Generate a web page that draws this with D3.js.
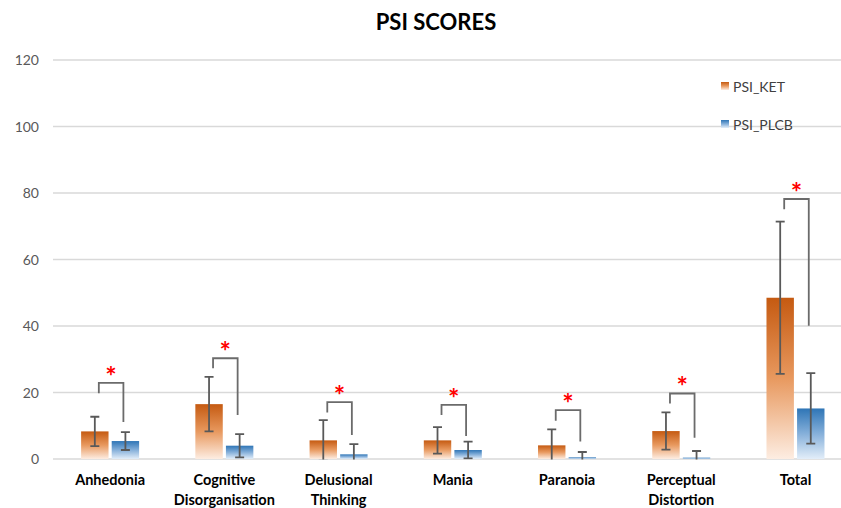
<!DOCTYPE html>
<html>
<head>
<meta charset="utf-8">
<script src="https://cdn.jsdelivr.net/npm/d3@7"></script>
<style>
  html, body { margin: 0; padding: 0; background: #fff; }
  svg { display: block; }
</style>
</head>
<body>
<svg id="chart" width="841" height="508"></svg>
<script>
// ---- data ----
const categories = [["Anhedonia"], ["Cognitive", "Disorganisation"], ["Delusional", "Thinking"], ["Mania"], ["Paranoia"], ["Perceptual", "Distortion"], ["Total"]];
const categoryKeys = ["Anhedonia", "Cognitive Disorganisation", "Delusional Thinking", "Mania", "Paranoia", "Perceptual Distortion", "Total"];
const seriesNames = ["PSI_KET", "PSI_PLCB"];
const ketValues = [8.3, 16.5, 5.6, 5.6, 4.1, 8.4, 48.5];
const ketErrors = [4.4, 8.2, 6.1, 4.0, 4.8, 5.6, 22.9];
const plcbValues = [5.4, 4.0, 1.4, 2.7, 0.5, 0.4, 15.2];
const plcbErrors = [2.7, 3.5, 3.1, 2.5, 1.6, 2.0, 10.6];
// significance brackets: top of bracket, end of left leg, end of right leg
const bracketTop = [22.9, 30.3, 17.1, 16.3, 14.7, 19.7, 78.2];
const bracketLeftEnd = [19.8, 27.3, 14.0, 13.2, 11.5, 16.7, 75.1];
const bracketRightEnd = [11.1, 13.2, 7.2, 6.9, 5.3, 6.4, 40.1];
const yTicks = [0, 20, 40, 60, 80, 100, 120];

// ---- layout ----
const svg = d3.select("#chart");
const FONT = "Lato, 'Open Sans', sans-serif";
const plotLeft = 53, plotRight = 852.6, plotTop = 60, plotBottom = 459;

const x = d3.scaleBand().domain(categoryKeys).range([plotLeft, plotRight]).paddingInner(0).paddingOuter(0);
const y = d3.scaleLinear().domain([0, 120]).range([plotBottom, plotTop]);
const sub = d3.scaleBand().domain(seriesNames).range([-29, 29]).paddingInner(6 / 58);

const defs = svg.append("defs");
function grad(id, stops) {
  const g = defs.append("linearGradient").attr("id", id).attr("x1", 0).attr("y1", 0).attr("x2", 0).attr("y2", 1);
  stops.forEach(s => g.append("stop").attr("offset", s[0]).attr("stop-color", s[1]));
}
grad("gKet", [[0, "#C55A11"], [0.5, "#E8995F"], [1, "#FDEDE2"]]);
grad("gPlcb", [[0, "#2E75B6"], [0.5, "#86B0DA"], [1, "#E3EEF9"]]);
defs.append("clipPath").attr("id", "plotClip").append("rect")
  .attr("x", 0).attr("y", 0).attr("width", 841).attr("height", plotBottom + 0.5);

// gridlines
svg.append("g").selectAll("line").data(yTicks).join("line")
  .attr("x1", plotLeft).attr("x2", 841)
  .attr("y1", d => y(d)).attr("y2", d => y(d))
  .attr("stroke", "#d9d9d9").attr("stroke-width", 1.3);

// y tick labels
svg.append("g").selectAll("text").data(yTicks).join("text")
  .attr("x", 39).attr("y", d => y(d) + 5)
  .attr("text-anchor", "end")
  .attr("font-family", FONT).attr("font-size", 14).attr("fill", "#595959")
  .text(d => d);

// title
svg.append("text").attr("x", 436).attr("y", 30).attr("text-anchor", "middle")
  .attr("font-family", FONT).attr("font-size", 22).attr("font-weight", "bold").attr("fill", "#000")
  .text("PSI SCORES");

// bars
const series = [
  { name: seriesNames[0], values: ketValues, errors: ketErrors, fill: "url(#gKet)" },
  { name: seriesNames[1], values: plcbValues, errors: plcbErrors, fill: "url(#gPlcb)" }
];
const cx = (i) => x(categoryKeys[i]) + x.bandwidth() / 2;

series.forEach(s => {
  const g = svg.append("g");
  g.selectAll("rect").data(s.values).join("rect")
    .attr("x", (d, i) => cx(i) + sub(s.name))
    .attr("width", sub.bandwidth())
    .attr("y", d => y(d))
    .attr("height", d => y(0) - y(d))
    .attr("fill", s.fill);
});

// error bars
series.forEach(s => {
  const g = svg.append("g").attr("clip-path", "url(#plotClip)")
    .attr("stroke", "#595959").attr("stroke-width", 1.8).attr("fill", "none");
  s.values.forEach((v, i) => {
    const bx = cx(i) + sub(s.name) + sub.bandwidth() / 2;
    const hi = y(v + s.errors[i]), lo = y(v - s.errors[i]);
    g.append("line").attr("x1", bx).attr("x2", bx).attr("y1", hi).attr("y2", lo);
    g.append("line").attr("x1", bx - 4.5).attr("x2", bx + 4.5).attr("y1", hi).attr("y2", hi);
    g.append("line").attr("x1", bx - 4.5).attr("x2", bx + 4.5).attr("y1", lo).attr("y2", lo);
  });
});

// significance brackets
const bg = svg.append("g");
categoryKeys.forEach((k, i) => {
  const lx = cx(i) + sub(seriesNames[0]) + sub.bandwidth() / 2 + 4;
  const rx = cx(i) + sub(seriesNames[1]) + sub.bandwidth() / 2 - 2;
  const ty = y(bracketTop[i]);
  bg.append("path")
    .attr("d", `M${lx},${y(bracketLeftEnd[i])} V${ty} H${rx} V${y(bracketRightEnd[i])}`)
    .attr("fill", "none").attr("stroke", "#6b6b6b").attr("stroke-width", 1.8);
  bg.append("text")
    .attr("x", (lx + rx) / 2).attr("y", ty + 3)
    .attr("text-anchor", "middle")
    .attr("font-family", FONT).attr("font-size", 27).attr("font-weight", "bold").attr("fill", "#FF0000")
    .text("*");
});

// x category labels
const xl = svg.append("g");
categories.forEach((lines, i) => {
  const t = xl.append("text").attr("text-anchor", "middle")
    .attr("font-family", FONT).attr("font-size", 14.5).attr("font-weight", "bold").attr("fill", "#000");
  lines.forEach((ln, j) => {
    t.append("tspan").attr("x", cx(i)).attr("y", 485 + j * 20).text(ln);
  });
});

// legend
const lg = svg.append("g");
series.forEach((s, j) => {
  const ly = 82 + j * 38;
  lg.append("rect").attr("x", 721).attr("y", ly).attr("width", 8).attr("height", 8).attr("fill", s.fill);
  lg.append("text").attr("x", 733).attr("y", ly + 9.5)
    .attr("font-family", FONT).attr("font-size", 14).attr("fill", "#404040")
    .text(s.name);
});
</script>
</body>
</html>
